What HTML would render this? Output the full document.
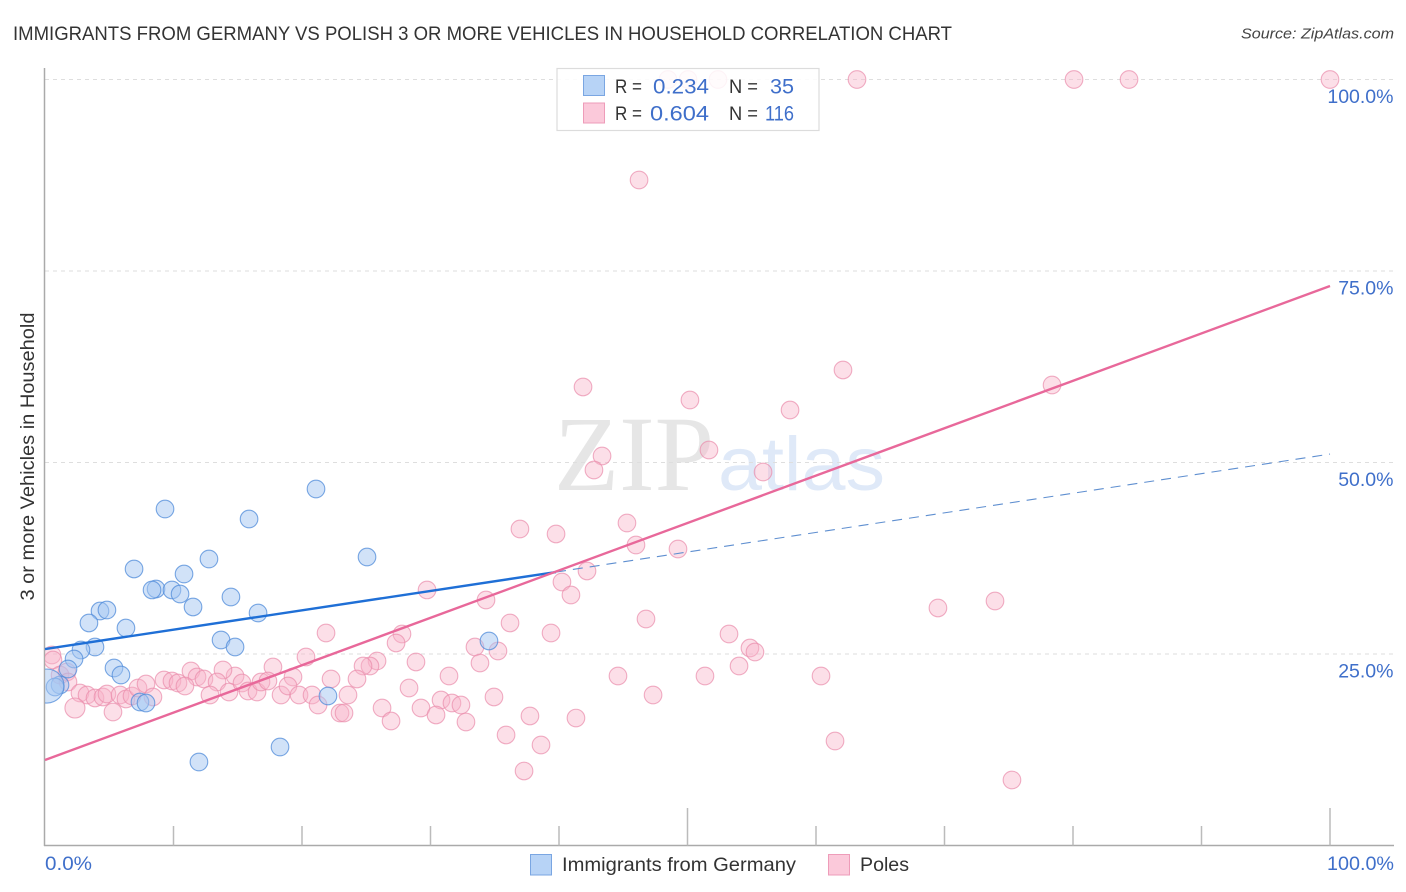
<!DOCTYPE html>
<html lang="en">
<head>
<meta charset="utf-8">
<title>Immigrants from Germany vs Polish 3 or More Vehicles in Household Correlation Chart</title>
<style>
html,body{margin:0;padding:0;background:#fff;width:1406px;height:892px;overflow:hidden}
svg{display:block;font-family:"Liberation Sans",sans-serif}
</style>
</head>
<body>
<svg id="chart" xmlns="http://www.w3.org/2000/svg" width="1406" height="892" viewBox="0 0 1406 892">
  <defs>
    <clipPath id="plot-clip"><rect x="45" y="60" width="1349" height="785.5"/></clipPath>
  </defs>
  <rect x="0" y="0" width="1406" height="892" fill="#fff"/>
  <text x="13" y="40" font-size="19.5" fill="#333" textLength="939" lengthAdjust="spacingAndGlyphs">IMMIGRANTS FROM GERMANY VS POLISH 3 OR MORE VEHICLES IN HOUSEHOLD CORRELATION CHART</text>
  <text x="1241" y="38.5" font-size="15" font-style="italic" fill="#444" textLength="153" lengthAdjust="spacingAndGlyphs">Source: ZipAtlas.com</text>
  <g>
    <text x="554" y="490" font-size="107" font-family="'Liberation Serif',serif" fill="#e6e6e6" textLength="160" lengthAdjust="spacingAndGlyphs">ZIP</text>
    <text x="718" y="490" font-size="76" fill="#dfe9f8" textLength="167" lengthAdjust="spacingAndGlyphs">atlas</text>
  </g>
  <g id="grid"></g>
  <g id="axes"></g>
  <g id="pink-points" clip-path="url(#plot-clip)"></g>
  <g id="blue-points" clip-path="url(#plot-clip)"></g>
  <g id="trends"></g>
  <g id="y-labels"></g>
  <text transform="translate(34 456.5) rotate(-90)" text-anchor="middle" font-size="19" fill="#333" textLength="288" lengthAdjust="spacingAndGlyphs">3 or more Vehicles in Household</text>
  <text x="45" y="870" font-size="19" fill="#3f6fca" textLength="47" lengthAdjust="spacingAndGlyphs">0.0%</text>
  <text x="1327" y="870" font-size="19" fill="#3f6fca" textLength="67" lengthAdjust="spacingAndGlyphs">100.0%</text>

  <g>
    <rect x="557" y="68.5" width="262" height="62" fill="#fff" fill-opacity="0.86" stroke="#dcdcdc" stroke-width="1.2"/>
    <rect x="583.5" y="75.5" width="21" height="20" fill="#b7d3f6" stroke="#7aa6e2" stroke-width="1"/>
    <rect x="583.5" y="103" width="21" height="20" fill="#fbc9da" stroke="#ee9cb9" stroke-width="1"/>
    <text x="615" y="93" font-size="19.5" fill="#333" textLength="27" lengthAdjust="spacingAndGlyphs">R =</text>
    <text x="653" y="93.5" font-size="21.5" fill="#3f6fca" textLength="56" lengthAdjust="spacingAndGlyphs">0.234</text>
    <text x="729" y="93" font-size="19.5" fill="#333" textLength="29" lengthAdjust="spacingAndGlyphs">N =</text>
    <text x="770" y="93.5" font-size="21.5" fill="#3f6fca" textLength="24" lengthAdjust="spacingAndGlyphs">35</text>
    <text x="615" y="120" font-size="19.5" fill="#333" textLength="27" lengthAdjust="spacingAndGlyphs">R =</text>
    <text x="650" y="120.5" font-size="21.5" fill="#3f6fca" textLength="59" lengthAdjust="spacingAndGlyphs">0.604</text>
    <text x="729" y="120" font-size="19.5" fill="#333" textLength="29" lengthAdjust="spacingAndGlyphs">N =</text>
    <text x="765" y="120.5" font-size="21.5" fill="#3f6fca" textLength="29" lengthAdjust="spacingAndGlyphs">116</text>
  </g>

  <g>
    <rect x="530.5" y="854.5" width="21" height="20.5" fill="#b7d3f6" stroke="#7aa6e2" stroke-width="1"/>
    <text x="562" y="871" font-size="19.5" fill="#333" textLength="234" lengthAdjust="spacingAndGlyphs">Immigrants from Germany</text>
    <rect x="828.5" y="854.5" width="21" height="20.5" fill="#fbc9da" stroke="#ee9cb9" stroke-width="1"/>
    <text x="860" y="871" font-size="19.5" fill="#333" textLength="49" lengthAdjust="spacingAndGlyphs">Poles</text>
  </g>
</svg>
<script>
const germanyX = [9.34,21.09,15.88,6.93,12.76,25.06,10.82,8.64,8.33,9.88,10.51,14.47,11.52,4.28,4.82,16.58,3.42,6.30,13.70,14.79,3.89,2.80,2.26,5.37,1.79,5.91,1.17,0.78,0.16,7.39,7.86,22.02,34.55,18.29,11.98];
const germanyY = [43.93,46.54,42.62,36.10,37.40,37.66,35.44,33.49,33.36,33.36,32.83,32.44,31.14,30.61,30.74,30.35,29.05,28.39,26.83,25.91,25.91,25.52,24.35,23.17,23.04,22.26,20.95,20.69,20.82,18.73,18.60,19.52,26.70,12.86,10.90];
const germanyLargeIndex = [28];

const polesX = [63.19,80.08,84.36,100,48.48,50.04,52.37,46.23,62.10,41.87,78.37,50.19,57.98,51.67,43.35,42.72,55.88,36.96,45.29,39.77,45.99,49.26,42.18,40.23,40.93,29.73,34.32,69.49,73.93,36.19,46.77,21.87,39.38,53.23,27.78,27.32,33.46,54.86,55.25,35.25,33.85,20.31,28.87,25.84,25.29,24.75,54.01,17.74,31.44,44.59,51.36,60.39,19.30,14.79,13.85,11.36,11.83,12.37,13.39,0.54,0.62,1.17,1.71,1.79,2.72,3.27,3.89,4.51,4.82,5.84,6.30,6.77,7.24,7.86,8.40,9.26,9.88,10.35,10.89,12.84,14.32,15.33,15.80,16.50,16.81,17.35,18.37,18.91,19.77,20.78,21.25,22.26,22.96,23.27,23.58,2.33,5.29,24.28,28.33,30.82,31.67,32.37,34.94,47.32,26.23,29.26,30.43,26.93,32.76,37.74,41.32,35.88,38.60,37.28,61.48,75.25];
const polesY = [100,100,100,100,100,100,100,86.88,62.08,59.86,60.12,58.16,56.85,51.63,50.85,49.02,48.76,41.32,42.10,40.67,39.23,38.71,35.84,34.40,32.70,33.36,32.05,31.01,31.92,29.05,29.57,27.74,27.74,27.61,27.61,26.44,25.91,25.78,25.26,25.39,23.82,24.61,23.96,24.09,23.43,23.43,23.43,23.30,22.13,22.13,22.13,22.13,22.00,22.13,22.91,22.78,22.00,21.74,21.34,24.87,24.22,22.26,22.65,21.34,19.91,19.65,19.26,19.39,19.78,19.65,19.13,19.52,20.56,21.08,19.39,21.61,21.48,21.21,20.82,19.65,20.04,21.21,20.17,20.04,21.34,21.48,19.65,20.82,19.65,19.65,18.34,21.74,17.30,17.30,19.65,17.95,17.43,21.74,20.56,18.99,18.60,18.34,19.39,19.65,17.95,17.95,17.04,16.25,16.12,16.91,16.64,14.43,13.12,9.73,13.64,8.55];
const polesLargeIndex = [95];

const germanyTrendX = [0,39.77];
const germanyTrendY = [25.65,35.70];
const germanyDashX = [39.77,100];
const germanyDashY = [35.70,51.10];
const polesTrendX = [0,100];
const polesTrendY = [11.16,73.04];

const xTickValues = [10,20,30,40,50,60,70,80,90,100];
const xMajorTicks = [50,100];
const yGridValues = [25,50,75,100];
const yTickLabels = ["25.0%","50.0%","75.0%","100.0%"];

const SVGNS = "http://www.w3.org/2000/svg";
function xScale(v){ return 45 + v * 12.85; }
function yScale(v){ return 845.5 - v * 7.66; }
function mk(tag, parent, attrs){
  const el = document.createElementNS(SVGNS, tag);
  for (const k in attrs) el.setAttribute(k, attrs[k]);
  parent.appendChild(el);
  return el;
}

const grid = document.getElementById('grid');
yGridValues.forEach(function(v){
  const el = mk('line', grid, {x1:45, x2:1394, y1:yScale(v), y2:yScale(v), stroke:'#dedede', 'stroke-width':1, 'stroke-dasharray':'4 4'});
  
  
});

const axes = document.getElementById('axes');
const yAxisLine = mk('line', axes, {x1:44.5, x2:44.5, y1:68, y2:846, stroke:'#aaa', 'stroke-width':1.5});


const xAxisLine = mk('line', axes, {x1:44, x2:1394, y1:845.5, y2:845.5, stroke:'#aaa', 'stroke-width':1.5});


xTickValues.forEach(function(v){
  const top = xMajorTicks.indexOf(v) >= 0 ? 808 : 826;
  const el = mk('line', axes, {x1:xScale(v), x2:xScale(v), y1:top, y2:845.5, stroke:'#bbb', 'stroke-width':1.5});
  
  
});

const yLabels = document.getElementById('y-labels');
yGridValues.forEach(function(v, i){
  const el = mk('text', yLabels, {x:1393.5, y:yScale(v) + 23.5, 'text-anchor':'end', 'font-size':19.5, fill:'#3f6fca'});
  
  
  el.textContent = yTickLabels[i];
});

const pinkGroup = document.getElementById('pink-points');
polesX.forEach(function(v, i){
  const big = polesLargeIndex.indexOf(i) >= 0;
  const el = mk('circle', pinkGroup, {cx:xScale(v), cy:yScale(polesY[i]), r:big ? 10 : 8.8, fill:'#f7b3c9', 'fill-opacity':0.42, stroke:'#ea8cab', 'stroke-opacity':0.7, 'stroke-width':1.1});
  
  
});

const blueGroup = document.getElementById('blue-points');
germanyX.forEach(function(v, i){
  const big = germanyLargeIndex.indexOf(i) >= 0;
  const el = mk('circle', blueGroup, {cx:xScale(v), cy:yScale(germanyY[i]), r:big ? 17 : 8.8, fill:'#a4c6f1', 'fill-opacity':0.5, stroke:'#4f8bd9', 'stroke-opacity':0.75, 'stroke-width':1.1});
  
  
});

const trends = document.getElementById('trends');
const dashLine = mk('line', trends, {x1:xScale(germanyDashX[0]), y1:yScale(germanyDashY[0]), x2:xScale(germanyDashX[1]), y2:yScale(germanyDashY[1]), stroke:'#5f8fd0', 'stroke-width':1.1, 'stroke-dasharray':'10 7'});


const blueLine = mk('line', trends, {x1:xScale(germanyTrendX[0]), y1:yScale(germanyTrendY[0]), x2:xScale(germanyTrendX[1]), y2:yScale(germanyTrendY[1]), stroke:'#1f6fd6', 'stroke-width':2.4});


const pinkLine = mk('line', trends, {x1:xScale(polesTrendX[0]), y1:yScale(polesTrendY[0]), x2:xScale(polesTrendX[1]), y2:yScale(polesTrendY[1]), stroke:'#e8689a', 'stroke-width':2.4});


</script>
</body>
</html>
